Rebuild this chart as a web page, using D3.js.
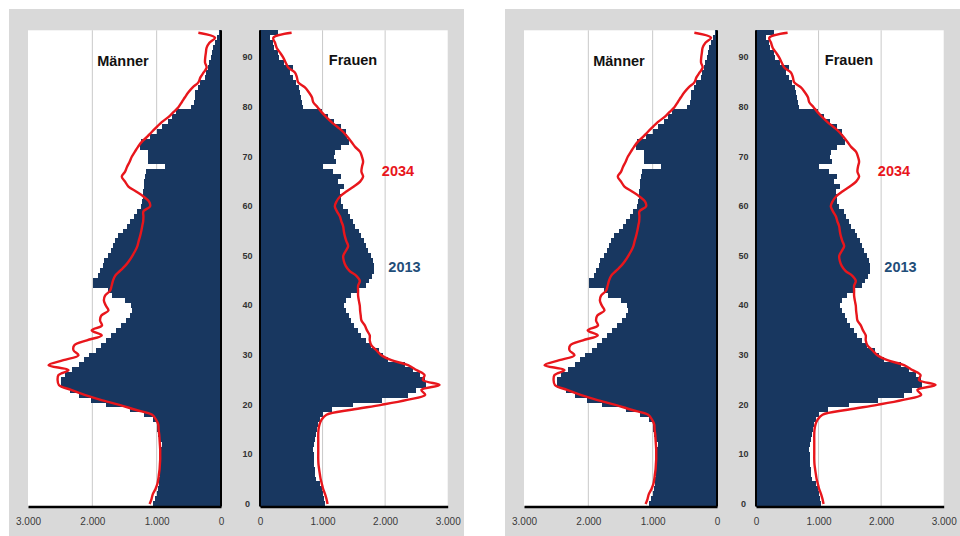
<!DOCTYPE html>
<html><head><meta charset="utf-8">
<script src="https://cdn.jsdelivr.net/npm/d3@7"></script>
<style>
html,body{margin:0;padding:0;background:#fff;}
svg{display:block;font-family:"Liberation Sans",Arial,sans-serif;}
</style>
</head><body>
<svg id="chart" width="960" height="536"></svg>
<script>
// ---------- data ----------
const ages = d3.range(0, 96);               // age categories 0..95
const yTickAges = [0, 10, 20, 30, 40, 50, 60, 70, 80, 90];
const xTickValues = [0, 1000, 2000, 3000];
const sexLabels = ["Männer", "Frauen"];
const seriesLabels = ["2013", "2034"];

const male2013 = [1050,1030,1000,980,970,960,950,950,950,950,
  945,930,920,960,975,990,1000,1060,1200,1420,
  1790,2020,2200,2350,2480,2490,2420,2320,2200,2130,
  2050,1950,1870,1790,1710,1630,1550,1480,1410,1380,
  1400,1500,1690,1750,1990,1990,1910,1880,1840,1820,
  1760,1710,1680,1650,1600,1530,1460,1410,1360,1310,
  1240,1230,1210,1210,1200,1190,1175,1160,870,1140,
  1130,1140,1260,1250,1100,1000,920,830,760,700,
  470,420,410,400,360,330,250,240,200,190,
  150,135,120,100,60,30];

const female2013 = [1040,1030,1000,990,960,900,880,880,870,865,
  860,855,860,880,900,910,920,960,1000,1150,
  1480,1950,2370,2500,2650,2630,2550,2450,2320,2050,
  1970,1900,1780,1700,1620,1560,1500,1460,1420,1370,
  1350,1380,1460,1560,1700,1750,1790,1830,1830,1810,
  1770,1730,1700,1660,1620,1580,1520,1480,1440,1400,
  1330,1300,1290,1280,1340,1250,1300,1170,1010,1210,
  1180,1200,1300,1430,1390,1380,1300,1190,1090,990,
  680,665,660,640,620,580,530,480,530,380,
  300,280,230,210,160,290];

const male2034 = [1110,1080,1060,1020,990,975,965,955,950,945,
  945,945,950,955,960,970,975,1010,1070,1330,
  1580,1870,2120,2330,2520,2540,2526,2370,2681,2450,
  2215,2293,2280,2085,1853,2010,1850,1880,1860,1750,
  1790,1820,1802,1724,1700,1680,1646,1570,1491,1430,
  1380,1335,1300,1280,1258,1240,1225,1210,1206,1206,
  1102,1120,1206,1320,1439,1491,1542,1491,1460,1420,
  1387,1340,1290,1232,1150,1077,1000,921,818,740,
  662,610,560,507,440,352,320,270,223,248,
  245,235,223,180,93,352];

const female2034 = [1080,1063,1040,1010,990,970,957,945,935,931,
  931,931,931,931,931,935,950,984,1063,1462,
  1940,2350,2640,2579,2870,2605,2630,2500,2366,2100,
  1940,1860,1781,1754,1754,1710,1675,1621,1610,1600,
  1595,1580,1568,1568,1568,1595,1540,1430,1370,1340,
  1330,1370,1409,1380,1356,1340,1329,1300,1276,1230,
  1196,1223,1280,1380,1500,1600,1648,1621,1630,1648,
  1630,1600,1520,1462,1400,1330,1240,1143,1060,984,
  920,851,830,780,718,611,590,558,452,410,
  372,320,266,240,213,505];

const panelOffsets = [0, 496];

// ---------- styles ----------
const NAVY = "#183760";
const RED = "#e8161c";
const GRID = "#c9c9c9";
const BG = "#d9d9d9";

const de = d3.formatLocale({decimal: ",", thousands: ".", grouping: [3], currency: ["", "€"]});
const fmt = de.format(",");

const svg = d3.select("#chart");
panelOffsets.forEach(dx => drawPanel(svg.append("g").attr("transform", `translate(${dx},0)`)));

function drawPanel(g) {
  const top = 30.3, bottom = 506.5;
  g.append("rect").attr("x", 9).attr("y", 9).attr("width", 455).attr("height", 527).attr("fill", BG);

  const y = d3.scaleBand().domain(ages).range([bottom, top]);
  const bw = y.bandwidth();
  const xm = d3.scaleLinear().domain([0, 3000]).range([221, 28]);
  const xf = d3.scaleLinear().domain([0, 3000]).range([260, 447.7]);

  // plot areas
  g.append("rect").attr("x", xm(3000)).attr("y", top).attr("width", xm(0) - xm(3000)).attr("height", bottom - top).attr("fill", "#fff");
  g.append("rect").attr("x", xf(0)).attr("y", top).attr("width", xf(3000) - xf(0)).attr("height", bottom - top).attr("fill", "#fff");

  // gridlines
  const grid = [1000, 2000];
  g.selectAll(".gm").data(grid).join("line").attr("class", "gm")
    .attr("x1", d => xm(d)).attr("x2", d => xm(d)).attr("y1", top).attr("y2", bottom)
    .attr("stroke", GRID).attr("stroke-width", 1);
  g.selectAll(".gf").data(grid).join("line").attr("class", "gf")
    .attr("x1", d => xf(d)).attr("x2", d => xf(d)).attr("y1", top).attr("y2", bottom)
    .attr("stroke", GRID).attr("stroke-width", 1);

  // bars 2013
  g.selectAll(".bm").data(ages).join("rect").attr("class", "bm")
    .attr("x", a => xm(male2013[a])).attr("y", a => y(a) - 0.2)
    .attr("width", a => xm(0) - xm(male2013[a])).attr("height", bw + 0.4)
    .attr("fill", NAVY).attr("shape-rendering", "crispEdges");
  g.selectAll(".bf").data(ages).join("rect").attr("class", "bf")
    .attr("x", xf(0)).attr("y", a => y(a) - 0.2)
    .attr("width", a => xf(female2013[a]) - xf(0)).attr("height", bw + 0.4)
    .attr("fill", NAVY).attr("shape-rendering", "crispEdges");

  // lines 2034
  const lm = d3.line().x(a => xm(male2034[a])).y(a => y(a) + bw / 2).curve(d3.curveCatmullRom.alpha(0.5));
  const lf = d3.line().x(a => xf(female2034[a])).y(a => y(a) + bw / 2).curve(d3.curveCatmullRom.alpha(0.5));
  g.append("path").attr("d", lm(ages)).attr("fill", "none").attr("stroke", RED).attr("stroke-width", 2.4).attr("stroke-linejoin", "round");
  g.append("path").attr("d", lf(ages)).attr("fill", "none").attr("stroke", RED).attr("stroke-width", 2.4).attr("stroke-linejoin", "round");

  // vertical zero axes
  [xm(0), xf(0)].forEach(x => {
    g.append("line").attr("x1", x).attr("x2", x).attr("y1", top).attr("y2", bottom)
      .attr("stroke", "#000").attr("stroke-width", 2);
  });

  // x axes
  const styleX = sel => {
    sel.select(".domain").attr("stroke", "#000").attr("stroke-width", 2.5);
    sel.selectAll("text").attr("font-size", 10).attr("fill", "#3a3a3a")
      .attr("font-family", "'Liberation Sans', Arial, sans-serif");
  };
  g.append("g").attr("transform", `translate(0,${bottom})`)
    .call(d3.axisBottom(xm).tickValues(xTickValues).tickFormat(fmt).tickSize(0).tickPadding(11))
    .call(styleX);
  g.append("g").attr("transform", `translate(0,${bottom})`)
    .call(d3.axisBottom(xf).tickValues(xTickValues).tickFormat(fmt).tickSize(0).tickPadding(11))
    .call(styleX);

  // y labels (ages)
  const ya = g.append("g").attr("transform", "translate(247.5,0)")
    .call(d3.axisLeft(y).tickValues(yTickAges).tickSize(0).tickPadding(0));
  ya.select(".domain").remove();
  ya.selectAll("text").attr("text-anchor", "middle").attr("x", 0)
    .attr("font-size", 9).attr("font-weight", "bold").attr("fill", "#333")
    .attr("font-family", "'Liberation Sans', Arial, sans-serif");

  // titles
  g.append("text").attr("x", 123).attr("y", 66).attr("text-anchor", "middle")
    .attr("font-size", 14.5).attr("font-weight", "bold").attr("fill", "#111").text(sexLabels[0]);
  g.append("text").attr("x", 353).attr("y", 65).attr("text-anchor", "middle")
    .attr("font-size", 14.5).attr("font-weight", "bold").attr("fill", "#111").text(sexLabels[1]);
  g.append("text").attr("x", 398).attr("y", 176).attr("text-anchor", "middle")
    .attr("font-size", 14.5).attr("font-weight", "bold").attr("fill", RED).text(seriesLabels[1]);
  g.append("text").attr("x", 404.5).attr("y", 272).attr("text-anchor", "middle")
    .attr("font-size", 14.5).attr("font-weight", "bold").attr("fill", "#1f4e79").text(seriesLabels[0]);
}
</script>
</body></html>
